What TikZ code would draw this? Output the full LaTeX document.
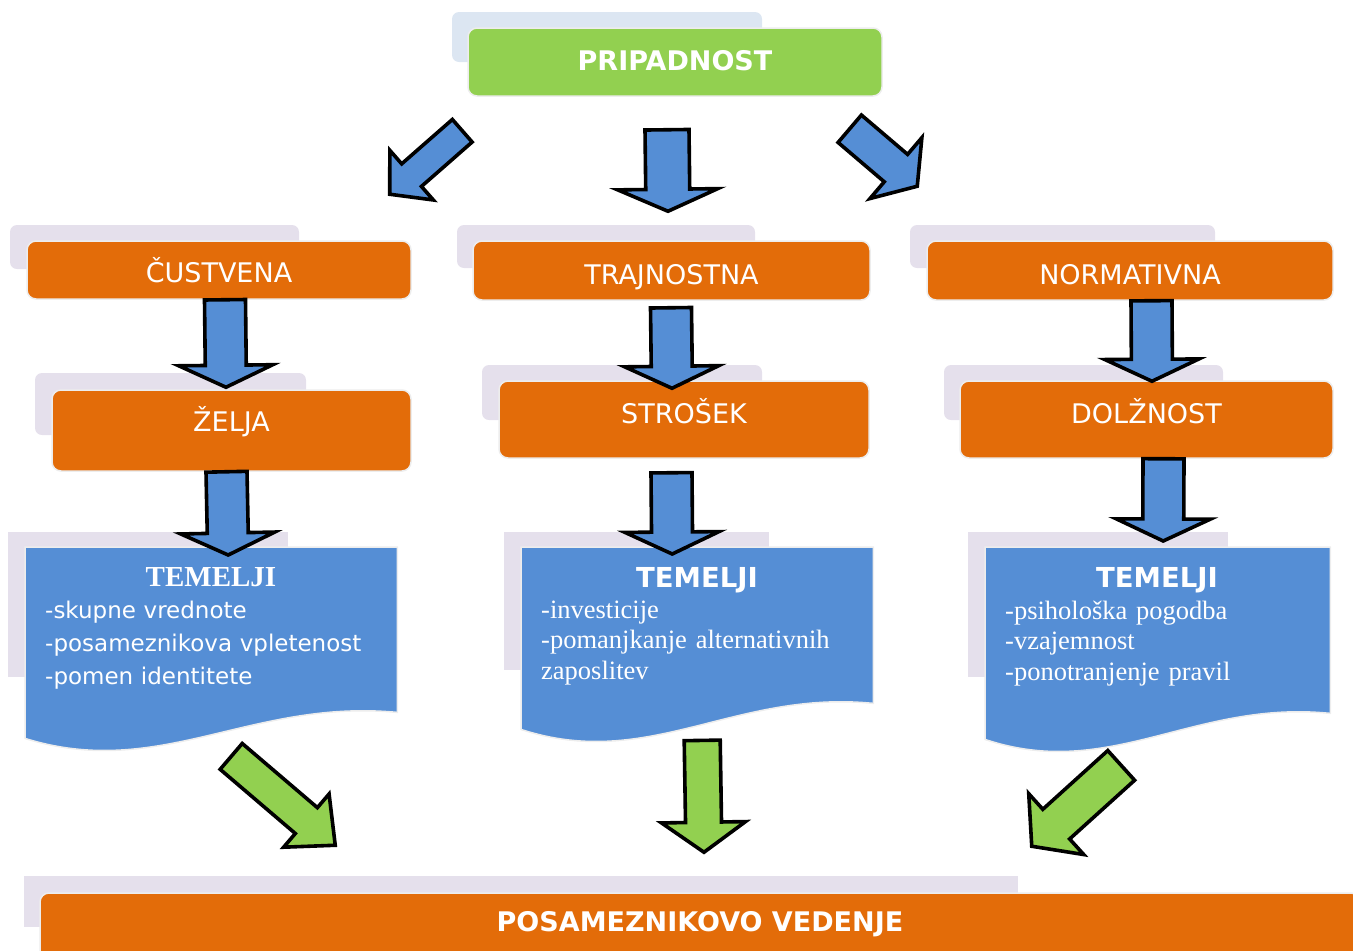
\documentclass[tikz,border=0pt]{standalone}
\usepackage{fontspec}
\setmainfont{Liberation Serif}
\setsansfont{DejaVu Sans}
\usetikzlibrary{calc}

\definecolor{boxorange}{HTML}{E36C09}
\definecolor{boxgreen}{HTML}{92D050}
\definecolor{boxblue}{HTML}{558ED5}
\definecolor{shadelav}{HTML}{E5E0EC}
\definecolor{shadeblue}{HTML}{DCE6F2}

% 块状箭头：样式、起点、终点、杆半宽、头半宽、头长
\newcommand{\blockarrow}[6]{%
  \path (#2) coordinate (ba-s) (#3) coordinate (ba-e);
  \path ($(ba-e)!#6!(ba-s)$) coordinate (ba-b);
  \draw[#1] ($(ba-s)!#4!90:(ba-e)$) -- ($(ba-b)!#4!90:(ba-e)$) -- ($(ba-b)!#5!90:(ba-e)$) -- (ba-e)
    -- ($(ba-b)!#5!-90:(ba-e)$) -- ($(ba-b)!#4!-90:(ba-e)$) -- ($(ba-s)!#4!-90:(ba-e)$) -- cycle;
}
% 波浪底边的文档框
\newcommand{\docwave}[1]{%
  \filldraw[docfill] (#1.north west) -- (#1.north east) -- (#1.south east)
    .. controls ($(#1.south west)!0.605!(#1.south east)+(0,-14)$) and ($(#1.south west)!0.363!(#1.south east)+(0,68)$) .. ([yshift=-26pt]#1.south west) -- cycle;
}

\begin{document}
\begin{tikzpicture}[x=1pt, y=-1pt,
  shade/.style={fill=shadelav, rounded corners=7pt},
  obox/.style={fill=boxorange, draw=white!93!black, line width=1.5pt, rounded corners=9pt, text=white, inner sep=0pt, font=\sffamily\fontsize{27}{32}\selectfont},
  gbox/.style={obox, fill=boxgreen, font=\sffamily\bfseries\fontsize{27}{32}\selectfont},
  docframe/.style={inner sep=0pt, anchor=north west},
  docfill/.style={fill=boxblue, draw=white!93!black, line width=1.5pt},
  titlesf/.style={text=white, anchor=base, font=\sffamily\bfseries\fontsize{27.5}{32}\selectfont},
  titlerm/.style={text=white, anchor=base, font=\rmfamily\bfseries\fontsize{29}{32}\selectfont},
  listsf/.style={text=white, anchor=base west, align=left, inner sep=0pt, text width=350pt, font=\sffamily\fontsize{23}{33}\selectfont},
  listrm/.style={text=white, anchor=base west, align=left, inner sep=0pt, text width=330pt, font=\rmfamily\fontsize{26.5}{30.5}\selectfont},
  barrow/.style={fill=boxblue, draw=black, line width=3.6pt, line join=miter},
  garrow/.style={fill=boxgreen, draw=black, line width=3.6pt, line join=miter}]
  \useasboundingbox (0,0) rectangle (1353,951);
  % 背景阴影块
  \fill[shade, fill=shadeblue] (452,12) rectangle (762,62);
  \fill[shade] (10,225) rectangle (299,269);
  \fill[shade] (457,225) rectangle (755,268);
  \fill[shade] (910,225) rectangle (1215,268);
  \fill[shade] (35,373) rectangle (306,435);
  \fill[shade] (482,365) rectangle (762,420);
  \fill[shade] (944,365) rectangle (1223,420);
  \fill[shadelav] (8,532) rectangle (288,677);
  \fill[shadelav] (504,532) rectangle (769,670);
  \fill[shadelav] (968,532) rectangle (1228,677);
  \fill[shadelav] (24,876) rectangle (1018,927);
  % 顶部与各层方框
  \node[gbox, minimum width=414pt, text height=42pt, text depth=26pt, anchor=base] (pripad) at (675,70) {PRIPADNOST};
  \node[obox, minimum width=384pt, text height=41pt, text depth=17pt, anchor=base] (cust) at (219,282) {ČUSTVENA};
  \node[obox, minimum width=397pt, text height=43pt, text depth=16pt, anchor=base] (trajn) at (671.5,284) {TRAJNOSTNA};
  \node[obox, minimum width=406pt, text height=43pt, text depth=16pt, anchor=base] (norm) at (1130,284) {NORMATIVNA};
  \node[obox, minimum width=359pt, text height=41pt, text depth=40pt, anchor=base] (zelja) at (231.5,431) {ŽELJA};
  \node[obox, minimum width=370pt, text height=42pt, text depth=35pt, anchor=base] (strosek) at (684,423) {STROŠEK};
  \node[obox, minimum width=373pt, text height=42pt, text depth=35pt, anchor=base] (dolz) at (1146.5,423) {DOLŽNOST};
  \node[obox, font=\sffamily\bfseries\fontsize{27}{32}\selectfont, minimum width=1320pt, text height=38pt, text depth=29pt, anchor=base] (vedenje) at (700,931) {POSAMEZNIKOVO VEDENJE};
  % 文档框（波浪底边）
  \node[docframe, minimum width=372pt, minimum height=165pt] (temL) at (25,547) {};
  \node[docframe, minimum width=352pt, minimum height=156pt] (temM) at (521,547) {};
  \node[docframe, minimum width=345pt, minimum height=166pt] (temR) at (985,547) {};
  \docwave{temL}
  \docwave{temM}
  \docwave{temR}
  \node[titlerm] (temLt) at (211,586) {TEMELJI};
  \node[listsf] (temLl) at (45,618) {-skupne vrednote\\-posameznikova vpletenost\\-pomen identitete};
  \node[titlesf] (temMt) at (697,587) {TEMELJI};
  \node[listrm] (temMl) at (541,618) {-investicije\\-pomanjkanje alternativnih\\zaposlitev};
  \node[titlesf] (temRt) at (1157,587) {TEMELJI};
  \node[listrm] (temRl) at (1005,619) {-psihološka pogodba\\-vzajemnost\\-ponotranjenje pravil};
  % 蓝色箭头
  \blockarrow{barrow}{[xshift=-5pt,yshift=-34pt]pripad.south west}{[xshift=-22pt,yshift=46pt]cust.north east}{15pt}{33pt}{29pt}
  \blockarrow{barrow}{[xshift=-8pt,yshift=-33pt]pripad.south}{[xshift=-3.5pt,yshift=29pt]trajn.north}{22pt}{50pt}{22pt}
  \blockarrow{barrow}{[xshift=-33pt,yshift=-32pt]pripad.south east}{[xshift=-9pt,yshift=54pt]norm.north west}{18pt}{40pt}{28pt}
  \blockarrow{barrow}{[xshift=6pt]cust.south}{[xshift=-5.5pt,yshift=2pt]zelja.north}{20.5pt}{47pt}{22pt}
  \blockarrow{barrow}{[xshift=-5pt]zelja.south}{[xshift=17pt,yshift=-8pt]temL.north}{20.5pt}{47pt}{22pt}
  \blockarrow{barrow}{[xshift=-0.5pt,yshift=-7pt]trajn.south}{[xshift=-12pt,yshift=-8pt]strosek.north}{20.5pt}{47pt}{22pt}
  \blockarrow{barrow}{[xshift=-12.5pt,yshift=-14pt]strosek.south}{[xshift=-25pt,yshift=-7pt]temM.north}{20.5pt}{47pt}{22pt}
  \blockarrow{barrow}{[xshift=21.5pt]norm.south}{[xshift=5.5pt,yshift=-1pt]dolz.north}{20.5pt}{47pt}{22pt}
  \blockarrow{barrow}{[xshift=17pt]dolz.south}{[xshift=5.5pt,yshift=6pt]temR.north}{20.5pt}{47pt}{22pt}
  % 绿色箭头
  \blockarrow{garrow}{[xshift=20pt,yshift=-44pt]temL.south}{[xshift=296pt,yshift=47pt]vedenje.north west}{17pt}{35pt}{38pt}
  \blockarrow{garrow}{[xshift=5pt,yshift=-37pt]temM.south}{[xshift=4pt,yshift=40pt]vedenje.north}{18pt}{42pt}{30pt}
  \blockarrow{garrow}{[xshift=-36.5pt,yshift=-52pt]temR.south}{[xshift=-329pt,yshift=46pt]vedenje.north east}{20pt}{41pt}{33pt}
\end{tikzpicture}
\end{document}
